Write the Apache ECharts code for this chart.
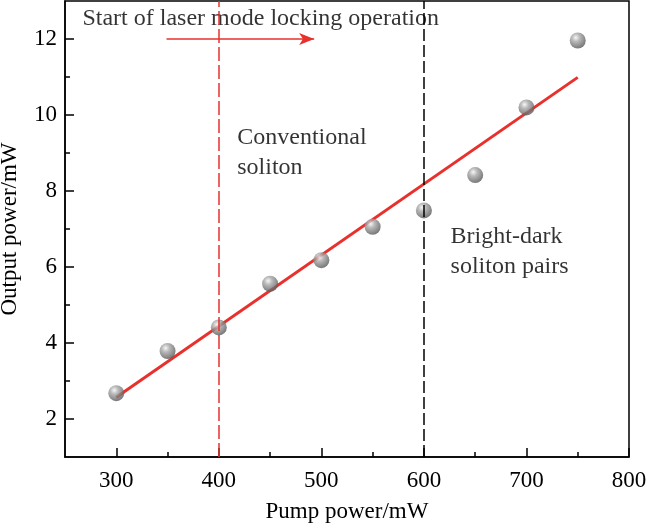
<!DOCTYPE html>
<html>
<head>
<meta charset="utf-8">
<script src="https://cdn.jsdelivr.net/npm/echarts@6/dist/echarts.min.js"></script>
<style>
  html, body { margin: 0; padding: 0; background: #fff; }
  #main { width: 646px; height: 526px; }
</style>
</head>
<body>
<div id="main"></div>
<script>
// pump power (mW) and measured output power (mW)
const pumpPower = [300, 350, 400, 450, 500, 550, 600, 650, 700, 750];
const outputPower = [2.68, 3.79, 4.41, 5.56, 6.18, 7.06, 7.49, 8.42, 10.2, 11.96];
// linear fit, two ends
const fitLine = [[300, 2.57], [750, 10.99]];
// regime boundaries
const lockStart = 400;
const regimeSplit = 600;
// arrow under the title text
const arrowLine = [[349, 12], [493, 12]];
// tick values
const xMajorTicks = [300, 400, 500, 600, 700, 800];
const xMinorTicks = [350, 450, 550, 650, 750];
const yMajorTicks = [2, 4, 6, 8, 10, 12];
const yMinorTicks = [3, 5, 7, 9, 11];
// annotations: [x, y, text]
const notes = [
  [267, 12.53, 'Start of laser mode locking operation'],
  [418, 9.02, 'Conventional\nsoliton'],
  [626, 6.39, 'Bright-dark\nsoliton pairs']
];

const FONT = 'Liberation Serif';
const RED = '#e8302c';

const chart = echarts.init(document.getElementById('main'));

const xBase = { type: 'value', min: 250, max: 800, splitLine: { show: false } };
const yBase = { type: 'value', min: 1, max: 13, splitLine: { show: false } };

chart.setOption({
  animation: false,
  grid: {
    left: 65, right: 17, top: 1, bottom: 69,
    outerBoundsMode: 'none',
    containLabel: false,
    show: true, borderColor: '#000', borderWidth: 1.5
  },
  xAxis: [
    Object.assign({}, xBase, {
      name: 'Pump power/mW',
      nameLocation: 'middle',
      nameGap: 43,
      nameTextStyle: { fontFamily: FONT, fontSize: 23, color: '#000' },
      axisLine: { lineStyle: { color: '#000', width: 1.5 } },
      axisTick: { inside: true, length: 9, customValues: xMajorTicks, lineStyle: { color: '#000', width: 1.5 } },
      axisLabel: { customValues: xMajorTicks, margin: 12, fontFamily: FONT, fontSize: 23, color: '#000' }
    }),
    Object.assign({}, xBase, {
      position: 'bottom',
      offset: 0,
      axisLine: { show: false },
      axisTick: { show: true, inside: true, length: 5, customValues: xMinorTicks, lineStyle: { color: '#000', width: 1.5 } },
      axisLabel: { show: false }
    })
  ],
  yAxis: [
    Object.assign({}, yBase, {
      name: 'Output power/mW',
      nameLocation: 'middle',
      nameGap: 44,
      nameTextStyle: { fontFamily: FONT, fontSize: 23, color: '#000' },
      axisLine: { lineStyle: { color: '#000', width: 1.5 } },
      axisTick: { inside: true, length: 9, customValues: yMajorTicks, lineStyle: { color: '#000', width: 1.5 } },
      axisLabel: { customValues: yMajorTicks, margin: 8, fontFamily: FONT, fontSize: 23, color: '#000' }
    }),
    Object.assign({}, yBase, {
      position: 'left',
      offset: 0,
      axisLine: { show: false },
      axisTick: { inside: true, length: 5, customValues: yMinorTicks, lineStyle: { color: '#000', width: 1.5 } },
      axisLabel: { show: false }
    })
  ],
  series: [
    {
      // fit line + boundary lines + arrow
      type: 'line',
      data: fitLine,
      symbol: 'none',
      lineStyle: { color: RED, width: 3 },
      z: 3,
      markLine: {
        silent: true,
        symbol: ['none', 'none'],
        label: { show: false },
        data: [
          { xAxis: lockStart, lineStyle: { color: RED, type: [14, 4], width: 1.5 } },
          { xAxis: regimeSplit, lineStyle: { color: '#000', type: [12, 4], width: 1.5 } },
          [
            { coord: arrowLine[0], symbol: 'none' },
            { coord: arrowLine[1], symbol: 'arrow', symbolSize: [9, 15], lineStyle: { color: RED, type: 'solid', width: 1.5 } }
          ]
        ]
      }
    },
    {
      type: 'scatter',
      data: pumpPower.map((p, i) => [p, outputPower[i]]),
      symbolSize: 16,
      z: 4,
      itemStyle: {
        color: {
          type: 'radial', x: 0.38, y: 0.32, r: 0.7,
          colorStops: [
            { offset: 0, color: '#f4f4f4' },
            { offset: 0.35, color: '#a8a8a8' },
            { offset: 1, color: '#555' }
          ]
        }
      }
    },
    {
      type: 'scatter',
      silent: true,
      symbolSize: 0,
      data: notes.map(n => ({ value: [n[0], n[1]], name: n[2] })),
      label: {
        show: true,
        position: 'right',
        distance: 0,
        formatter: p => p.name,
        fontFamily: FONT,
        fontSize: 24,
        lineHeight: 30,
        color: '#000'
      }
    }
  ]
});
</script>
</body>
</html>
